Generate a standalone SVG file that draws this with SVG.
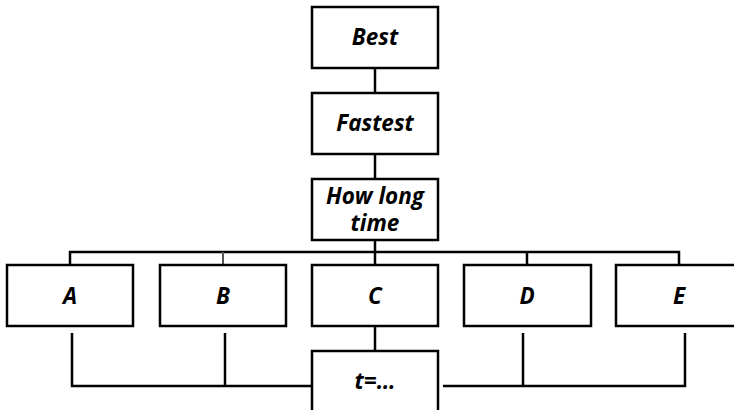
<svg xmlns="http://www.w3.org/2000/svg" width="734" height="410" viewBox="0 0 734 410">
  <style>
    .box { fill: #ffffff; stroke: #000000; stroke-width: 2.5; }
    .wire { fill: none; stroke: #000000; stroke-width: 2.5; }
    .thin { fill: none; stroke: #555555; stroke-width: 2; }
    .label { font-family: "Open Sans", "Noto Sans", "Liberation Sans", sans-serif; font-weight: bold; font-style: italic; font-size: 22.5px; text-anchor: middle; fill: #000000; }
  </style>
  <rect width="734" height="410" fill="#ffffff"/>

  <!-- connectors -->
  <g id="connectors">
    <line class="wire" x1="375" y1="68" x2="375" y2="93"/>
    <line class="wire" x1="375" y1="154" x2="375" y2="180"/>
    <line class="wire" x1="375" y1="240" x2="375" y2="265"/>
    <polyline class="wire" points="70,265 70,252 679,252 679,265"/>
    <line class="thin" x1="223" y1="252" x2="223" y2="265"/>
    <line class="wire" x1="527" y1="252" x2="527" y2="265"/>
    <line class="wire" x1="375" y1="326" x2="375" y2="351"/>
    <polyline class="wire" points="72,333 72,386 313,386"/>
    <line class="wire" x1="225" y1="333" x2="225" y2="386"/>
    <polyline class="wire" points="443,386 685,386 685,333"/>
    <line class="wire" x1="523" y1="333" x2="523" y2="386"/>
  </g>

  <g id="best">
    <rect class="box" x="312" y="7" width="126" height="61"/>
    <text class="label" x="375" y="45">Best</text>
  </g>
  <g id="fastest">
    <rect class="box" x="312" y="93" width="126" height="61"/>
    <text class="label" x="375" y="131">Fastest</text>
  </g>
  <g id="howlong">
    <rect class="box" x="312" y="179" width="126" height="61"/>
    <text class="label" x="375" y="204">How long</text>
    <text class="label" x="375" y="231">time</text>
  </g>
  <g id="a">
    <rect class="box" x="7" y="265" width="126" height="61"/>
    <text class="label" x="70" y="304">A</text>
  </g>
  <g id="b">
    <rect class="box" x="160" y="265" width="126" height="61"/>
    <text class="label" x="223" y="304">B</text>
  </g>
  <g id="c">
    <rect class="box" x="312" y="265" width="126" height="61"/>
    <text class="label" x="375" y="304">C</text>
  </g>
  <g id="d">
    <rect class="box" x="464" y="265" width="127" height="61"/>
    <text class="label" x="527" y="304">D</text>
  </g>
  <g id="e">
    <rect class="box" x="616" y="265" width="126" height="61"/>
    <text class="label" x="679" y="304">E</text>
  </g>
  <g id="t">
    <rect class="box" x="312" y="351" width="126" height="70"/>
    <text class="label" x="375" y="389">t=…</text>
  </g>
</svg>
